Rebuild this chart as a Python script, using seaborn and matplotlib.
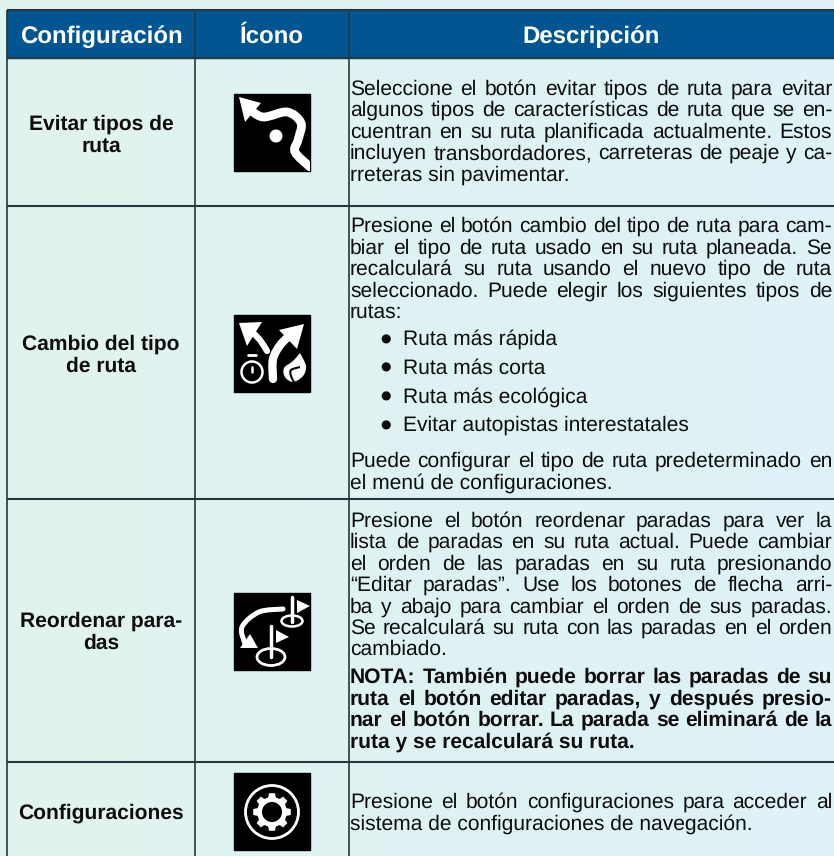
import numpy as np
import matplotlib
matplotlib.use("Agg")
import matplotlib.pyplot as plt
import seaborn as sns
from matplotlib.colors import LinearSegmentedColormap
from matplotlib.patches import Circle, Ellipse, PathPatch, Polygon, Rectangle
from matplotlib.path import Path

HEADERS = ["Configuración", "Ícono", "Descripción"]
SETTINGS = [
    ["Evitar tipos de", "ruta"],
    ["Cambio del tipo", "de ruta"],
    ["Reordenar para-", "das"],
    ["Configuraciones"],
]
ROW1_TEXT = [
    "Seleccione el botón evitar tipos de ruta para evitar",
    "algunos tipos de características de ruta que se en-",
    "cuentran en su ruta planificada actualmente. Estos",
    "incluyen transbordadores, carreteras de peaje y ca-",
    "rreteras sin pavimentar.",
]
ROW2_TEXT = [
    "Presione el botón cambio del tipo de ruta para cam-",
    "biar el tipo de ruta usado en su ruta planeada. Se",
    "recalculará su ruta usando el nuevo tipo de ruta",
    "seleccionado. Puede elegir los siguientes tipos de",
    "rutas:",
]
ROW2_BULLETS = [
    "Ruta más rápida",
    "Ruta más corta",
    "Ruta más ecológica",
    "Evitar autopistas interestatales",
]
ROW2_END = [
    "Puede configurar el tipo de ruta predeterminado en",
    "el menú de configuraciones.",
]
ROW3_TEXT = [
    "Presione el botón reordenar paradas para ver la",
    "lista de paradas en su ruta actual. Puede cambiar",
    "el orden de las paradas en su ruta presionando",
    "“Editar paradas”. Use los botones de flecha arri-",
    "ba y abajo para cambiar el orden de sus paradas.",
    "Se recalculará su ruta con las paradas en el orden",
    "cambiado.",
]
ROW3_NOTE = [
    "NOTA: También puede borrar las paradas de su",
    "ruta el botón editar paradas, y después presio-",
    "nar el botón borrar. La parada se eliminará de la",
    "ruta y se recalculará su ruta.",
]
ROW4_TEXT = [
    "Presione el botón configuraciones para acceder al",
    "sistema de configuraciones de navegación.",
]
BG_TINT = [0, 0.1, 0.2, 0.3, 0.4, 0.5, 0.6, 0.7, 0.8, 0.9, 1]

INK = "#0d0d0d"
LINE = "#26373b"
PITCH = 21.45
BODY = 15.2

sns.set_theme(style="white")
plt.rcParams["font.family"] = ["Liberation Sans", "DejaVu Sans"]
plt.rcParams["text.hinting"] = "no_hinting"
plt.rcParams["text.hinting_factor"] = 1

fig = plt.figure(figsize=(8.34, 8.56), dpi=100)

# background wash
bg = fig.add_axes([0, 0, 1, 1])
wash = LinearSegmentedColormap.from_list("wash", ["#e0f3ee", "#def2f7"])
sns.heatmap([BG_TINT], cmap=wash, cbar=False, xticklabels=False,
            yticklabels=False, ax=bg)

# everything else is laid out in image pixels
ax = fig.add_axes([0, 0, 1, 1])
ax.set_xlim(0, 834)
ax.set_ylim(856, 0)
ax.axis("off")
ax.patch.set_visible(False)
renderer = fig.canvas.get_renderer()

ax.add_patch(Rectangle((7, 10), 827, 48, color="#015591", zorder=1))
ax.hlines([10, 58], 7, 834, color=LINE, lw=1.5, zorder=3)
ax.hlines([206, 499, 762], 7, 834, color=LINE, lw=1.5, zorder=3)
ax.vlines([7, 195, 349], 10, 856, color=LINE, lw=1.2, zorder=3)

for label, xc in zip(HEADERS, [101, 272, 591]):
    ax.text(xc, 43, label, color="white", fontsize=17.3, fontweight="bold",
            ha="center", va="baseline")

for lines, yc in zip(SETTINGS, [134, 354, 631, 812]):
    for i, line in enumerate(lines):
        base = yc + 6.5 + (i - (len(lines) - 1) / 2) * 22
        ax.text(101, base, line, color=INK, fontsize=15.2, fontweight="bold",
                ha="center", va="baseline")


def put_line(line, y, weight="normal", justify=True, x0=350, x1=832):
    words = line.split(" ")
    if not justify or len(words) == 1:
        ax.text(x0, y, line, color=INK, fontsize=BODY, fontweight=weight,
                va="baseline")
        return
    items = [ax.text(x0, y, w, color=INK, fontsize=BODY, fontweight=weight,
                     va="baseline") for w in words]
    widths = [t.get_window_extent(renderer).width for t in items]
    gap = (x1 - x0 - sum(widths)) / (len(words) - 1)
    x = x0
    for t, w in zip(items, widths):
        t.set_x(x)
        x += w + gap


def put_para(lines, y0, weight="normal"):
    for i, line in enumerate(lines):
        put_line(line, y0 + i * PITCH, weight, i < len(lines) - 1)


put_para(ROW1_TEXT, 94.5)
put_para(ROW2_TEXT, 232)
for i, item in enumerate(ROW2_BULLETS):
    y = 345 + i * 28.7
    ax.text(386, y - 6, "●", color=INK, fontsize=8.5, ha="center", va="center",
            family="DejaVu Sans")
    ax.text(403, y, item, color=INK, fontsize=BODY, va="baseline")
put_para(ROW2_END, 467)
put_para(ROW3_TEXT, 526.5)
put_para(ROW3_NOTE, 683, "bold")
put_para(ROW4_TEXT, 808)


def curve(points):
    # catmull-rom through the points, as a bezier path
    p = np.array(points, dtype=float)
    p = np.vstack([p[0], p, p[-1]])
    verts = [p[1]]
    codes = [Path.MOVETO]
    for i in range(1, len(p) - 2):
        verts += [p[i] + (p[i + 1] - p[i - 1]) / 6,
                  p[i + 1] - (p[i + 2] - p[i]) / 6,
                  p[i + 1]]
        codes += [Path.CURVE4] * 3
    return Path(verts, codes)


def stroke(points, width, box):
    patch = PathPatch(curve(points), fc="none", ec="white", lw=width,
                      capstyle="round", zorder=6)
    ax.add_patch(patch)
    patch.set_clip_path(box)


def solid(points):
    ax.add_patch(Polygon(points, closed=True, fc="white", ec="none", zorder=6))


def icon_box(y):
    box = Rectangle((234, y), 76.5, 77, color="black", zorder=5)
    ax.add_patch(box)
    return box


# avoid route types
box = icon_box(94)
stroke([(248, 108), (263, 117), (287, 112), (301, 123), (298, 140), (295, 152), (310, 167)], 6.3, box)
solid([(239, 97), (261, 103), (245, 122)])
ax.add_patch(Circle((276, 136), 6.5, fc="white", ec="none", zorder=6))

# change route type
box = icon_box(315)
stroke([(252, 332), (260, 340), (267, 351)], 4.5, box)
solid([(239, 323), (262, 322), (247, 346)])
stroke([(273, 379), (273, 359), (281, 344), (293, 333)], 6, box)
solid([(304, 324), (279, 330), (297, 349)])
ax.add_patch(Circle((252, 372), 10.5, fc="none", ec="white", lw=1.8, zorder=6))
ax.plot([248, 256], [355, 355], color="white", lw=2, zorder=6)
ax.plot([252, 252], [367, 372], color="white", lw=1.8, zorder=6)
flame = curve([(300, 353), (306, 366), (303, 376), (293, 382), (285, 377), (284, 368), (293, 361), (300, 353)])
ax.add_patch(PathPatch(flame, fc="white", ec="none", zorder=6))
ax.add_patch(PathPatch(curve([(300, 367), (291, 370), (291, 376), (294, 382)]), fc="none",
                       ec="black", lw=1.5, zorder=7))

# reorder stops
box = icon_box(593)
stroke([(283, 609), (259, 612), (242, 627), (245, 644)], 3.6, box)
solid([(258, 648), (240, 648), (250, 634)])
ax.plot([292, 292], [597, 622], color="white", lw=2.5, zorder=6)
solid([(297, 600), (310, 606), (297, 613)])
ax.add_patch(Ellipse((292, 621), 21, 11, fc="none", ec="white", lw=1.8, zorder=6))
ax.plot([271, 271], [626, 657], color="white", lw=2.5, zorder=6)
solid([(276, 630), (289, 637), (276, 643)])
ax.add_patch(Ellipse((271, 657), 28, 17, fc="none", ec="white", lw=2, zorder=6))

# settings gear
icon_box(773)
ax.add_patch(Circle((272, 812), 26.5, fc="none", ec="white", lw=2, zorder=6))
teeth = []
for k in range(8):
    a = k * np.pi / 4
    for da, r in [(-0.26, 15), (-0.16, 19), (0.16, 19), (0.26, 15)]:
        teeth.append((272 + r * np.sin(a + da), 812 - r * np.cos(a + da)))
solid(teeth)
ax.add_patch(Circle((272, 812), 10, fc="black", ec="none", zorder=7))

fig.savefig("out.png", dpi=100)
